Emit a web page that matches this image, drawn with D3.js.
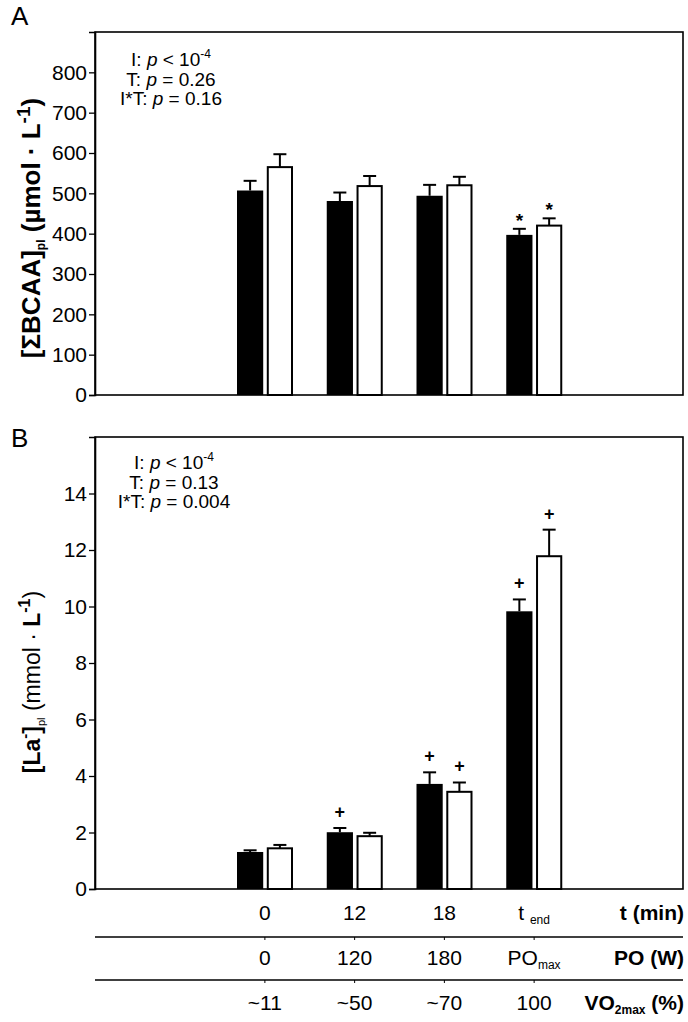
<!DOCTYPE html>
<html><head><meta charset="utf-8">
<script src="https://cdn.jsdelivr.net/npm/d3@7"></script>
<style>
html,body{margin:0;padding:0;background:#fff;}
svg{display:block;font-family:"Liberation Sans",Arial,sans-serif;}
</style></head>
<body>
<svg id="chart" width="688" height="1022"></svg>
<script>
// ---------- DATA ----------
const categories = ["0", "12", "18", "t_end"];
const seriesNames = ["filled", "open"];
// Panel A: [ΣBCAA]pl (µmol·L-1)
const bcaaFilled = [507, 481, 494, 397];
const bcaaFilledErr = [24, 21, 27, 15];
const bcaaOpen = [565, 518, 520, 420];
const bcaaOpenErr = [32, 25, 21, 18];
const bcaaStars = ["filled@3", "open@3"];
const bcaaTicks = [0, 100, 200, 300, 400, 500, 600, 700, 800];
// Panel B: [La-]pl (mmol·L-1)
const laFilled = [1.31, 2.01, 3.72, 9.83];
const laFilledErr = [0.06, 0.15, 0.41, 0.42];
const laOpen = [1.44, 1.87, 3.44, 11.78];
const laOpenErr = [0.12, 0.12, 0.33, 0.94];
const laPlus = ["filled@1", "filled@2", "open@2", "filled@3", "open@3"];
const laTicks = [0, 2, 4, 6, 8, 10, 12, 14];
// Bottom table rows
const rowT = ["0", "12", "18", "t_end"];
const rowPO = ["0", "120", "180", "PO_max"];
const rowVO = ["~11", "~50", "~70", "100"];

// ---------- LAYOUT ----------
const svg = d3.select("#chart");
const L = 95, R = 683;
const x0 = d3.scaleBand().domain(categories).range([220, 579]);
const x1 = d3.scaleBand().domain(seriesNames).range([17, 73]).paddingInner(0.12);
const FONT = "'Liberation Sans', Arial, sans-serif";

function panel(opts) {
  const y = d3.scaleLinear().domain(opts.domain).range([opts.bottom, opts.top]);
  const g = svg.append("g");
  g.append("rect").attr("x", L).attr("y", opts.top).attr("width", R - L).attr("height", opts.bottom - opts.top)
    .attr("fill", "none").attr("stroke", "#000").attr("stroke-width", 1.6);
  const ax = g.append("g").attr("transform", `translate(${L},0)`)
    .call(d3.axisLeft(y).tickValues(opts.ticks).tickSize(6).tickPadding(2).tickFormat(d3.format("d")));
  ax.select(".domain").attr("stroke-width", 1.6);
  ax.selectAll(".tick line").attr("stroke-width", 1.3);
  ax.selectAll(".tick text").attr("font-size", 21).attr("font-family", FONT).attr("fill", "#000");

  const rows = categories.map((c, i) => ({c, i,
    vals: [{s: "filled", v: opts.filled[i], e: opts.filledErr[i]}, {s: "open", v: opts.open[i], e: opts.openErr[i]}]}));
  const grp = g.selectAll(".grp").data(rows).join("g").attr("transform", d => `translate(${x0(d.c)},0)`);
  const items = grp.selectAll(".bar").data(d => d.vals.map(v => ({...v, i: d.i}))).join("g");
  items.append("line").attr("x1", d => x1(d.s) + x1.bandwidth() / 2).attr("x2", d => x1(d.s) + x1.bandwidth() / 2)
    .attr("y1", d => y(d.v)).attr("y2", d => y(d.v + d.e)).attr("stroke", "#000").attr("stroke-width", 2);
  items.append("line").attr("x1", d => x1(d.s) + x1.bandwidth() / 2 - 6.5).attr("x2", d => x1(d.s) + x1.bandwidth() / 2 + 6.5)
    .attr("y1", d => y(d.v + d.e)).attr("y2", d => y(d.v + d.e)).attr("stroke", "#000").attr("stroke-width", 2);
  items.append("rect")
    .attr("x", d => x1(d.s) + (d.s === "open" ? 1 : 0))
    .attr("width", d => x1.bandwidth() - (d.s === "open" ? 2 : 0))
    .attr("y", d => y(d.v))
    .attr("height", d => opts.bottom - y(d.v))
    .attr("fill", d => d.s === "filled" ? "#000" : "#fff")
    .attr("stroke", "#000").attr("stroke-width", d => d.s === "open" ? 2 : 0);
  items.filter(d => opts.marks.includes(d.s + "@" + d.i))
    .append("text")
    .attr("x", d => x1(d.s) + x1.bandwidth() / 2)
    .attr("y", d => y(d.v + d.e) - opts.markGap)
    .attr("text-anchor", "middle").attr("font-size", opts.markSize).attr("font-weight", "bold")
    .attr("font-family", FONT).text(opts.markChar);

  const ann = g.append("text").attr("font-family", FONT).attr("font-size", 19).attr("text-anchor", "middle");
  opts.ann.forEach((a, k) => {
    const t = ann.append("tspan").attr("x", opts.annX).attr("y", opts.annY + k * 19.5);
    t.append("tspan").text(a[0]);
    t.append("tspan").attr("font-style", "italic").text("p");
    t.append("tspan").text(a[1]);
    if (a[2]) t.append("tspan").attr("font-size", 12).attr("dy", -8).text(a[2]);
  });
  g.append("text").attr("x", 11).attr("y", opts.letterY).attr("font-size", 26).attr("font-family", FONT).text(opts.letter);
  return y;
}

panel({letter: "A", letterY: 25, top: 32, bottom: 395, domain: [0, 900], ticks: bcaaTicks,
  filled: bcaaFilled, filledErr: bcaaFilledErr, open: bcaaOpen, openErr: bcaaOpenErr,
  marks: bcaaStars, markChar: "*", markSize: 19, markGap: 2,
  annX: 171, annY: 66, ann: [["I: ", " < 10", "-4"], ["T: ", " = 0.26"], ["I*T: ", " = 0.16"]]});

panel({letter: "B", letterY: 447, top: 437, bottom: 889, domain: [0, 16], ticks: laTicks,
  filled: laFilled, filledErr: laFilledErr, open: laOpen, openErr: laOpenErr,
  marks: laPlus, markChar: "+", markSize: 18, markGap: 10,
  annX: 174, annY: 469, ann: [["I: ", " < 10", "-4"], ["T: ", " = 0.13"], ["I*T: ", " = 0.004"]]});

// y labels
const ylA = svg.append("text").attr("transform", "translate(40,228) rotate(-90)")
  .attr("text-anchor", "middle").attr("font-family", FONT).attr("font-weight", "bold").attr("font-size", 26);
ylA.append("tspan").text("[ΣBCAA]");
ylA.append("tspan").attr("font-size", 12).attr("dy", 5).text("pl");
ylA.append("tspan").attr("dy", -5).text(" (µmol · L");
ylA.append("tspan").attr("font-size", 19).attr("dy", -10).text("-1");
ylA.append("tspan").attr("dy", 10).text(")");

const ylB = svg.append("text").attr("transform", "translate(40,682) rotate(-90)")
  .attr("text-anchor", "middle").attr("font-family", FONT).attr("font-size", 23);
ylB.append("tspan").attr("font-weight", "bold").text("[La");
ylB.append("tspan").attr("font-weight", "bold").attr("font-size", 15).attr("dy", -10).text("-");
ylB.append("tspan").attr("font-weight", "bold").attr("dy", 10).text("]");
ylB.append("tspan").attr("font-size", 11).attr("dy", 5).text("pl");
ylB.append("tspan").attr("dy", -5).text(" (mmol · ");
ylB.append("tspan").attr("font-weight", "bold").text("L");
ylB.append("tspan").attr("font-weight", "bold").attr("font-size", 16).attr("dy", -10).text("-1");
ylB.append("tspan").attr("dy", 10).text(")");

// bottom table
const tableRows = [
  {vals: rowT, y: 920, label: "t (min)"},
  {vals: rowPO, y: 965, label: "PO (W)"},
  {vals: rowVO, y: 1010, label: "VO2max (%)"}
];
tableRows.forEach((r) => {
  r.vals.forEach((v, i) => {
    const t = svg.append("text").attr("x", x0(categories[i]) + x0.bandwidth() / 2).attr("y", r.y)
      .attr("text-anchor", "middle").attr("font-family", FONT).attr("font-size", 21);
    if (v.includes("_")) {
      const [a, b] = v.split("_");
      t.append("tspan").text(a + (a === "t" ? " " : ""));
      t.append("tspan").attr("font-size", 12).attr("dy", 4).text(b);
    } else t.text(v);
  });
  const lab = svg.append("text").attr("x", R + 1).attr("y", r.y).attr("text-anchor", "end")
    .attr("font-family", FONT).attr("font-size", 21).attr("font-weight", "bold");
  if (r.label.startsWith("VO2max")) {
    lab.append("tspan").text("VO");
    lab.append("tspan").attr("font-size", 12).attr("dy", 4).text("2max");
    lab.append("tspan").attr("dy", -4).text(" (%)");
  } else lab.text(r.label);
});
[937, 980].forEach(yy => {
  svg.append("line").attr("x1", L).attr("x2", R).attr("y1", yy).attr("y2", yy).attr("stroke", "#000").attr("stroke-width", 1.5);
  categories.forEach(c => svg.append("line")
    .attr("x1", x0(c) + x0.bandwidth() / 2).attr("x2", x0(c) + x0.bandwidth() / 2)
    .attr("y1", yy).attr("y2", yy + 3).attr("stroke", "#000").attr("stroke-width", 1));
});
</script>
</body></html>
